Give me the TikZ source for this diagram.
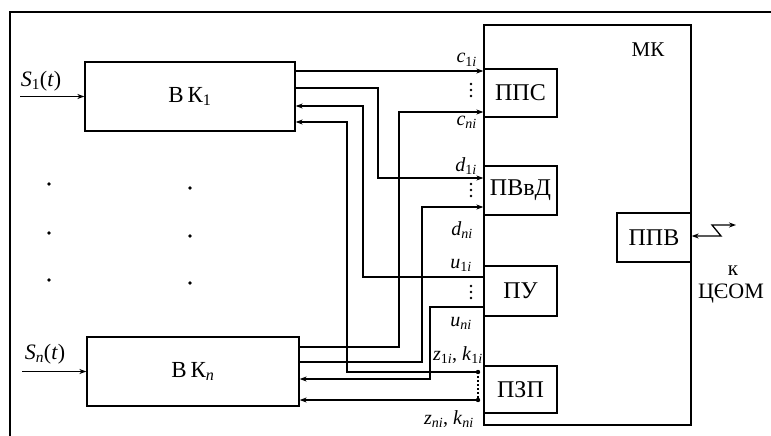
\documentclass[tikz,border=0pt]{standalone}
\usepackage{fontspec}
\setmainfont{Liberation Serif}
\usetikzlibrary{arrows.meta}
\newcommand{\sgn}[2]{\textit{#1}\textsubscript{#2}}

\begin{document}
\begin{tikzpicture}[x=1pt,y=-1pt,
  box/.style={draw,line width=1.3pt,inner sep=0pt,font=\fontsize{24}{26}\selectfont},
  wire/.style={line width=1.3pt},
  sig/.style={wire,-{Stealth[length=7pt,width=5pt]}},
  lab/.style={inner sep=0pt,font=\fontsize{20}{22}\selectfont},
  spot/.style={circle,fill,inner sep=1.3pt}]
\useasboundingbox (0,0) rectangle (771,436);
\draw[wire] (771,12) -- (10,12) -- (10,436);

% channel blocks
\node[box,minimum width=210pt,minimum height=69pt,font=\fontsize{23}{26}\selectfont] (bk1) at (190,96.5) {В\,К\textsubscript{1}};
\node[box,minimum width=212pt,minimum height=69pt,font=\fontsize{23}{26}\selectfont] (bkn) at (193,371.5) {В\,К\textsubscript{\textit{n}}};
\node[lab,font=\fontsize{22}{24}\selectfont] (s1) at (41,81) {\sgn{S}{1}(\textit{t})};
\node[lab,font=\fontsize{22}{24}\selectfont] (sn) at (45,354) {\sgn{S}{\textit{n}}(\textit{t})};
\coordinate (in1) at (20,96.5);
\coordinate (inn) at (22,371.5);
\draw[sig] (in1) -- (bk1.west);
\draw[sig] (inn) -- (bkn.west);
\foreach \x/\y [count=\i] in {49/184,190/188,49/233,190/236,49/280,190/283}
  \node[spot] (sp\i) at (\x,\y) {};

% controller
\node[box,minimum width=207pt,minimum height=400pt] (mk) at (587.5,225) {};
\node[lab,font=\fontsize{21}{24}\selectfont] (mklab) at (648,50) {МК};
\node[box,minimum width=73pt,minimum height=48pt] (pps) at (520.5,93) {ППС};
\node[box,minimum width=73pt,minimum height=49pt] (pvvd) at (520.5,190.5) {ПВвД};
\node[box,minimum width=73pt,minimum height=50pt] (pu) at (520.5,291) {ПУ};
\node[box,minimum width=73pt,minimum height=47pt] (pzp) at (520.5,389.5) {ПЗП};
\node[box,minimum width=74pt,minimum height=49pt] (ppv) at (654,237.5) {ППВ};
\node[lab,font=\fontsize{21}{24}\selectfont] (k) at (733,271) {к};
\node[lab,font=\fontsize{22}{24}\selectfont] (ceom) at (731,294) {ЦЄОМ};

% links
\draw[sig] (bk1.east |- 0,71) -- (pps.west |- 0,71);
\draw[sig] (bk1.east |- 0,88) -| (378,178) -- (pvvd.west |- 0,178);
\draw[sig] (pu.west |- 0,277) -| (363,106) -- (bk1.east |- 0,106);
\coordinate (zk1) at (478,372);
\coordinate (zkn) at (478,400);
\draw[sig] (zk1) -| (347,122) -- (bk1.east |- 0,122);
\draw[sig] (bkn.east |- 0,347) -| (399,112) -- (pps.west |- 0,112);
\draw[sig] (bkn.east |- 0,362) -| (422,207) -- (pvvd.west |- 0,207);
\draw[sig] (pu.west |- 0,307) -| (430,379) -- (bkn.east |- 0,379);
\draw[sig] (zkn) -- (bkn.east |- zkn);
\draw[line width=2pt,dotted] (zk1) -- (zkn);
\fill (zk1) circle (2.2pt);
\fill (zkn) circle (2.2pt);
\draw[wire,{Stealth[length=7pt,width=5pt]}-{Stealth[length=7pt,width=5pt]}] (ppv.east |- 0,236) -- (721,236) -- (712,225) -- (736,225);

% signal names
\node[lab,anchor=base east] (c1) at (477,63) {\sgn{c}{1\textit{i}}};
\node[lab,anchor=base east] (cn) at (477,125) {\sgn{c}{\textit{ni}}};
\node[lab,anchor=base east] (d1) at (477,171) {\sgn{d}{1\textit{i}}};
\node[lab,anchor=base east] (dn) at (473,235) {\sgn{d}{\textit{ni}}};
\node[lab,anchor=base east] (u1) at (472,268) {\sgn{u}{1\textit{i}}};
\node[lab,anchor=base east] (un) at (472,326) {\sgn{u}{\textit{ni}}};
\node[lab,anchor=base east] (zk1lab) at (483,360) {\sgn{z}{1\textit{i}}, \sgn{k}{1\textit{i}}};
\node[lab,anchor=base east] (zknlab) at (474,424) {\sgn{z}{\textit{ni}}, \sgn{k}{\textit{ni}}};
\foreach \y in {90,190,292}
  \foreach \d in {-6,0,6}
    \fill (471,\y+\d) circle (1.3pt);
\end{tikzpicture}
\end{document}
